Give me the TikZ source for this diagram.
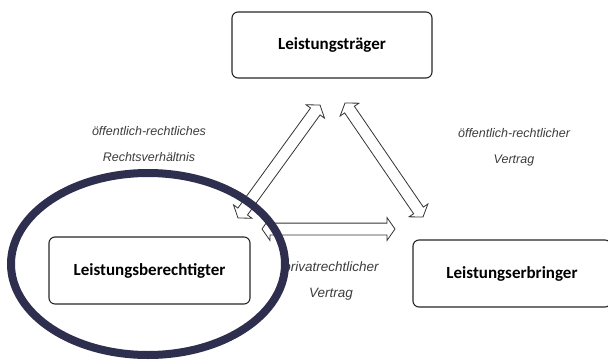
\documentclass[tikz,border=0pt]{standalone}
\usepackage{fontspec}
\setmainfont{Carlito}
\newfontfamily\labelfont{Liberation Sans}
\usetikzlibrary{shapes.arrows}
\definecolor{ringblue}{RGB}{46,46,78}
\definecolor{labelgray}{RGB}{60,60,60}
\tikzset{
  partybox/.style={draw=black!85,line width=1.1pt,rounded corners=6pt,minimum width=200pt,minimum height=66pt,font=\fontsize{17}{19}\selectfont\bfseries},
  relnote/.style={align=center,text=labelgray,font=\labelfont\itshape\fontsize{12.5}{26}\selectfont},
  hollowarrow/.style={double arrow,draw=black!80,fill=white,line width=0.8pt,inner xsep=0pt,inner ysep=5.5pt,double arrow head extend=5.5pt,double arrow tip angle=110,sloped}
}
\begin{document}
\begin{tikzpicture}[x=1pt,y=1pt]
\useasboundingbox (0,0) rectangle (608,360);
\node[partybox] (traeger) at (332,315) {Leistungsträger};
\node[partybox,minimum width=201pt,minimum height=67pt] (berechtigter) at (149.5,89.5) {Leistungsberechtigter};
\node[partybox,minimum width=198pt,minimum height=67pt] (erbringer) at (512,86.5) {Leistungserbringer};
\coordinate (a1) at (238,142); \coordinate (a2) at (320,255);
\coordinate (b1) at (345,257); \coordinate (b2) at (423,143);
\coordinate (c1) at (262,131); \coordinate (c2) at (395,131);
\path (a1) -- node[hollowarrow,minimum height=139.6pt]{} (a2);
\path (b1) -- node[hollowarrow,minimum height=138.1pt]{} (b2);
\path (c1) -- node[hollowarrow,minimum height=133pt]{} (c2);
\node[relnote] (oeffrecht) at (149,216) {öffentlich-rechtliches\\Rechtsverhältnis};
\node[relnote] (oeffvertrag) at (514,213) {öffentlich-rechtlicher\\Vertrag};
\node[relnote,font=\labelfont\itshape\fontsize{13.5}{26}\selectfont] (privvertrag) at (331,79) {privatrechtlicher\\Vertrag};
\draw[ringblue,line width=8pt] (148,96) ellipse (137pt and 91pt);
\end{tikzpicture}
\end{document}
